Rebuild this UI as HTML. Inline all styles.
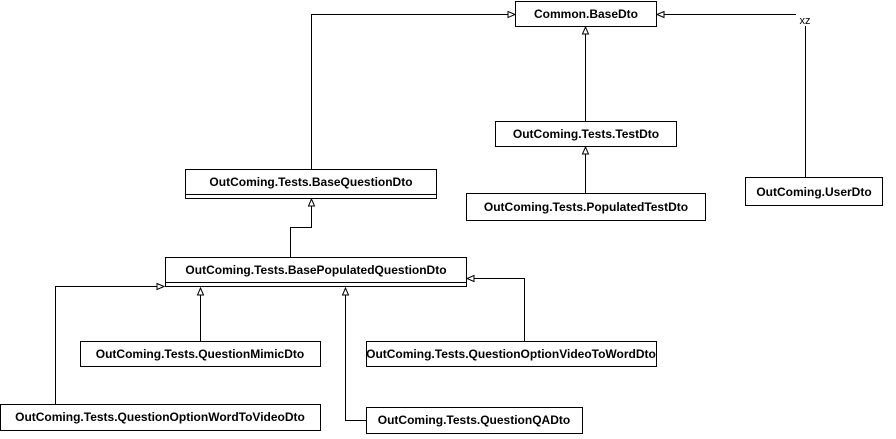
<!DOCTYPE html><html><head><style>body{margin:0;background:#fff}</style></head><body>
<svg width="896" height="434" xmlns="http://www.w3.org/2000/svg" font-family="Liberation Sans, sans-serif" font-size="12" font-weight="bold">
<defs><marker id="a" markerWidth="10" markerHeight="10" refX="8" refY="4" orient="auto" markerUnits="userSpaceOnUse"><path d="M1,1 L8,4 L1,7 Z" fill="#fff" stroke="#000" stroke-width="1"/></marker></defs>
<g fill="none" stroke="#000" stroke-width="1">
<polyline points="311.5,169 311.5,14.5 515,14.5" marker-end="url(#a)"/>
<polyline points="805.5,177 805.5,14.5 657,14.5" marker-end="url(#a)"/>
<polyline points="585.5,121 585.5,27" marker-end="url(#a)"/>
<polyline points="585.5,193 585.5,147" marker-end="url(#a)"/>
<polyline points="290.5,257 290.5,227.5 311.5,227.5 311.5,199" marker-end="url(#a)"/>
<polyline points="55.5,404 55.5,286.5 164,286.5" marker-end="url(#a)"/>
<polyline points="200.5,341 200.5,288" marker-end="url(#a)"/>
<polyline points="366,420.5 345.5,420.5 345.5,288" marker-end="url(#a)"/>
<polyline points="524.5,341 524.5,278.5 467,278.5" marker-end="url(#a)"/>
</g>
<rect x="796" y="14" width="20" height="12" fill="#fff"/>
<text x="805" y="24" text-anchor="middle" font-weight="normal" font-size="11">xz</text>
<g fill="#fff" stroke="#000">
<rect x="515.5" y="1.5" width="141" height="25"/>
<rect x="495.5" y="121.5" width="181" height="25"/>
<rect x="466.5" y="193.5" width="239" height="27"/>
<rect x="745.5" y="177.5" width="137" height="28"/>
<rect x="185.5" y="169.5" width="251" height="29"/>
<rect x="165.5" y="257.5" width="301" height="29"/>
<rect x="80.5" y="341.5" width="240" height="25"/>
<rect x="0.5" y="404.5" width="320" height="26"/>
<rect x="366.5" y="341.5" width="290" height="25"/>
<rect x="366.5" y="407.5" width="216" height="26"/>
</g>
<line x1="185" y1="194.5" x2="437" y2="194.5" stroke="#000"/>
<line x1="165" y1="282.5" x2="467" y2="282.5" stroke="#000"/>
<g text-anchor="middle" fill="#000">
<text x="586" y="18">Common.BaseDto</text>
<text x="586" y="138">OutComing.Tests.TestDto</text>
<text x="586" y="211">OutComing.Tests.PopulatedTestDto</text>
<text x="814" y="196">OutComing.UserDto</text>
<text x="311" y="186">OutComing.Tests.BaseQuestionDto</text>
<text x="316" y="274">OutComing.Tests.BasePopulatedQuestionDto</text>
<text x="200" y="358">OutComing.Tests.QuestionMimicDto</text>
<text x="160" y="421">OutComing.Tests.QuestionOptionWordToVideoDto</text>
<text x="511" y="358">OutComing.Tests.QuestionOptionVideoToWordDto</text>
<text x="474" y="424">OutComing.Tests.QuestionQADto</text>
</g>
</svg>
</body></html>
